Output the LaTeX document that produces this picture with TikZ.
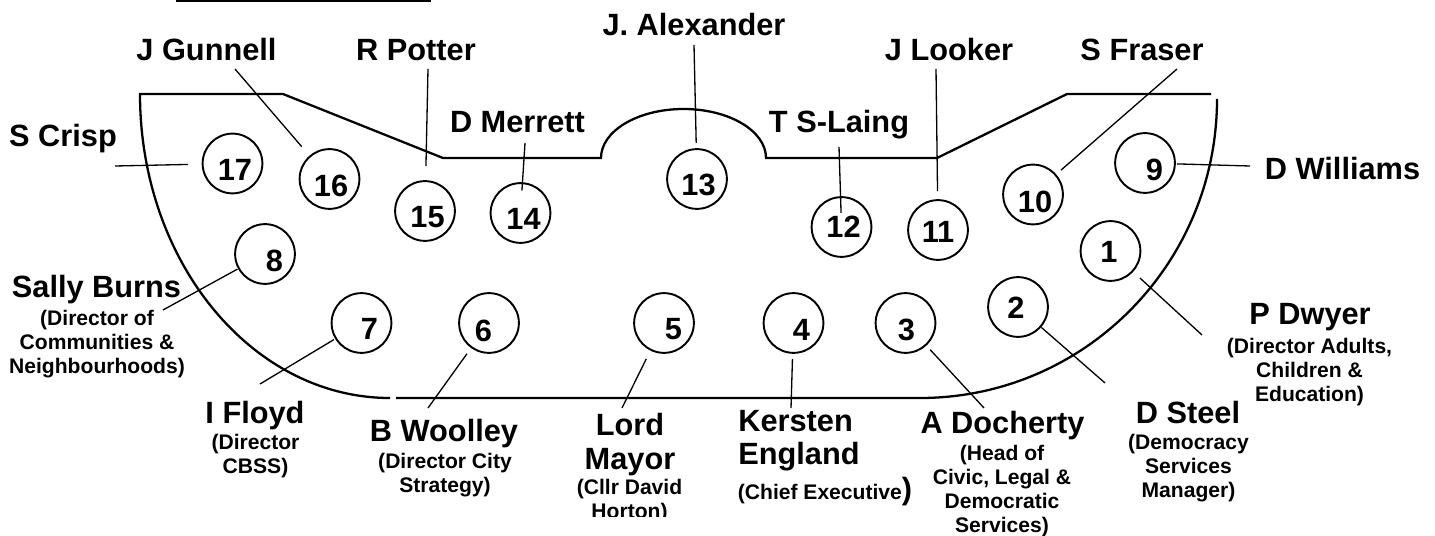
\documentclass[tikz,border=0pt]{standalone}
\usepackage{fontspec}
\setmainfont{Liberation Sans}
\tikzset{
  seat/.style={circle, draw, line width=1.1pt, minimum size=34pt, inner sep=0pt},
  num/.style={font=\bfseries\fontsize{17.5}{20}\selectfont, inner sep=0pt},
  who/.style={font=\bfseries\fontsize{17.5}{19.3}\selectfont, inner sep=0pt, align=center},
  role/.style={font=\bfseries\fontsize{12}{13.7}\selectfont, inner sep=0pt, align=center, anchor=north},
  link/.style={line width=0.75pt},
  rim/.style={line width=1.3pt}
}
\begin{document}
\begin{tikzpicture}[x=0.02cm, y=0.02cm]%
   \useasboundingbox (0,0) rectangle (1435,-536);
   \draw[line width=1.1pt] (176,-1) -- (431,-1);
   \draw[rim] (1211,-94) -- (1067,-94) -- (937,-158) -- (766,-158)
      arc[start angle=0, end angle=180, x radius=82.5, y radius=49]
      -- (443,-158) -- (283,-94) -- (140,-94)
      arc[start angle=180, end angle=270, x radius=250, y radius=304];
   \draw[rim] (396,-398) -- (920,-398)
      arc[start angle=-90, end angle=0, x radius=297, y radius=299];
   \foreach \n/\x/\y/\dx/\dy in {17/232.5/163.5/2.5/6, 16/329.5/179/1.5/7, 15/425/211/2.5/6.5,
      14/520.5/213/3/6, 13/697/179/1.5/6, 12/841.5/227/2/0, 11/938/230/0/2, 10/1033/194.5/2/7.5,
      9/1145/163/9.5/6.5, 8/265/254/9.5/6.5, 7/361.5/323/8/6, 6/489/323/-5.5/7.5,
      5/664/323/9.5/6.5, 4/793.5/323/8/6.5, 3/905.5/323/1/6.5, 2/1018/307/-2/1, 1/1110.5/251/-1.5/1} {
      \node[seat] (s\n) at (\x,-\y) {};
      \node[num] (n\n) at ({\x+\dx},{-\y-\dy}) {\n};
   }
   \foreach \n/\ex/\ey/\d in {17/115/166/25.3, 16/235/69/24.3, 15/428/69/25.6, 14/525/143/12.8,
      13/694/45/20.5, 12/839/147/8.0, 11/936/69/22.1, 10/1177/69/21.1, 9/1250/166/18.2,
      8/163/310/17.9, 7/260/384/18.3, 6/428/408/21.5, 5/622/408/22.8, 4/791/408/20.5,
      3/984/408/20.7, 2/1105/383/17.7, 1/1202/335/22.7} {
      \coordinate (e\n) at (\ex,-\ey);
      \draw[link, shorten <=\d pt] (s\n.center) -- (e\n);
   }
   \node[who, anchor=base] (crisp) at (63,-147) {S Crisp};
   \node[who, anchor=base] (gunnell) at (206.5,-61) {J Gunnell};
   \node[who, anchor=base] (potter) at (416,-61) {R Potter};
   \node[who, anchor=base] (merrett) at (517.5,-133) {D Merrett};
   \node[who, anchor=base] (alexander) at (694,-36) {J. Alexander};
   \node[who, anchor=base] (laing) at (839,-133) {T S-Laing};
   \node[who, anchor=base] (looker) at (949,-61) {J Looker};
   \node[who, anchor=base] (fraser) at (1142,-61) {S Fraser};
   \node[who, anchor=base] (williams) at (1342.5,-180) {D Williams};
   \node[who, anchor=base] (burns) at (96.5,-298) {Sally Burns};
   \node[who, anchor=base] (floyd) at (255,-423) {I Floyd};
   \node[who, anchor=base] (woolley) at (444,-441) {B Woolley};
   \node[who, anchor=north] (mayor) at (630,-412.5) {Lord\\Mayor};
   \node[who, align=left, anchor=north west] (england) at (738,-409.5) {Kersten\\England};
   \node[who, anchor=base] (docherty) at (1002.5,-433) {A Docherty};
   \node[who, anchor=base] (steel) at (1188,-423) {D Steel};
   \node[who, anchor=base] (dwyer) at (1310,-325) {P Dwyer};
   \node[role] (burnsrole) at (97,-309.6) {(Director of\\Communities \&\\Neighbourhoods)};
   \node[role] (floydrole) at (255.5,-433.6) {(Director\\CBSS)};
   \node[role] (woolleyrole) at (445,-452.6) {(Director City\\Strategy)};
   \begin{scope}
      \clip (560,-470) rectangle (700,-516);
      \node[role] (mayorrole) at (629.5,-478.6) {(Cllr David\\Horton)};
   \end{scope}
   \node[role, anchor=base] (englandrole) at (825,-499) {(Chief Executive{\fontsize{17.5}{19}\selectfont)}};
   \node[role] (dochertyrole) at (1002,-444.6) {(Head of\\Civic, Legal \&\\Democratic\\Services)};
   \node[role] (steelrole) at (1188.5,-433.6) {(Democracy\\Services\\Manager)};
   \node[role] (dwyerrole) at (1309.5,-337.6) {(Director Adults,\\Children \&\\Education)};
\end{tikzpicture}
\end{document}
